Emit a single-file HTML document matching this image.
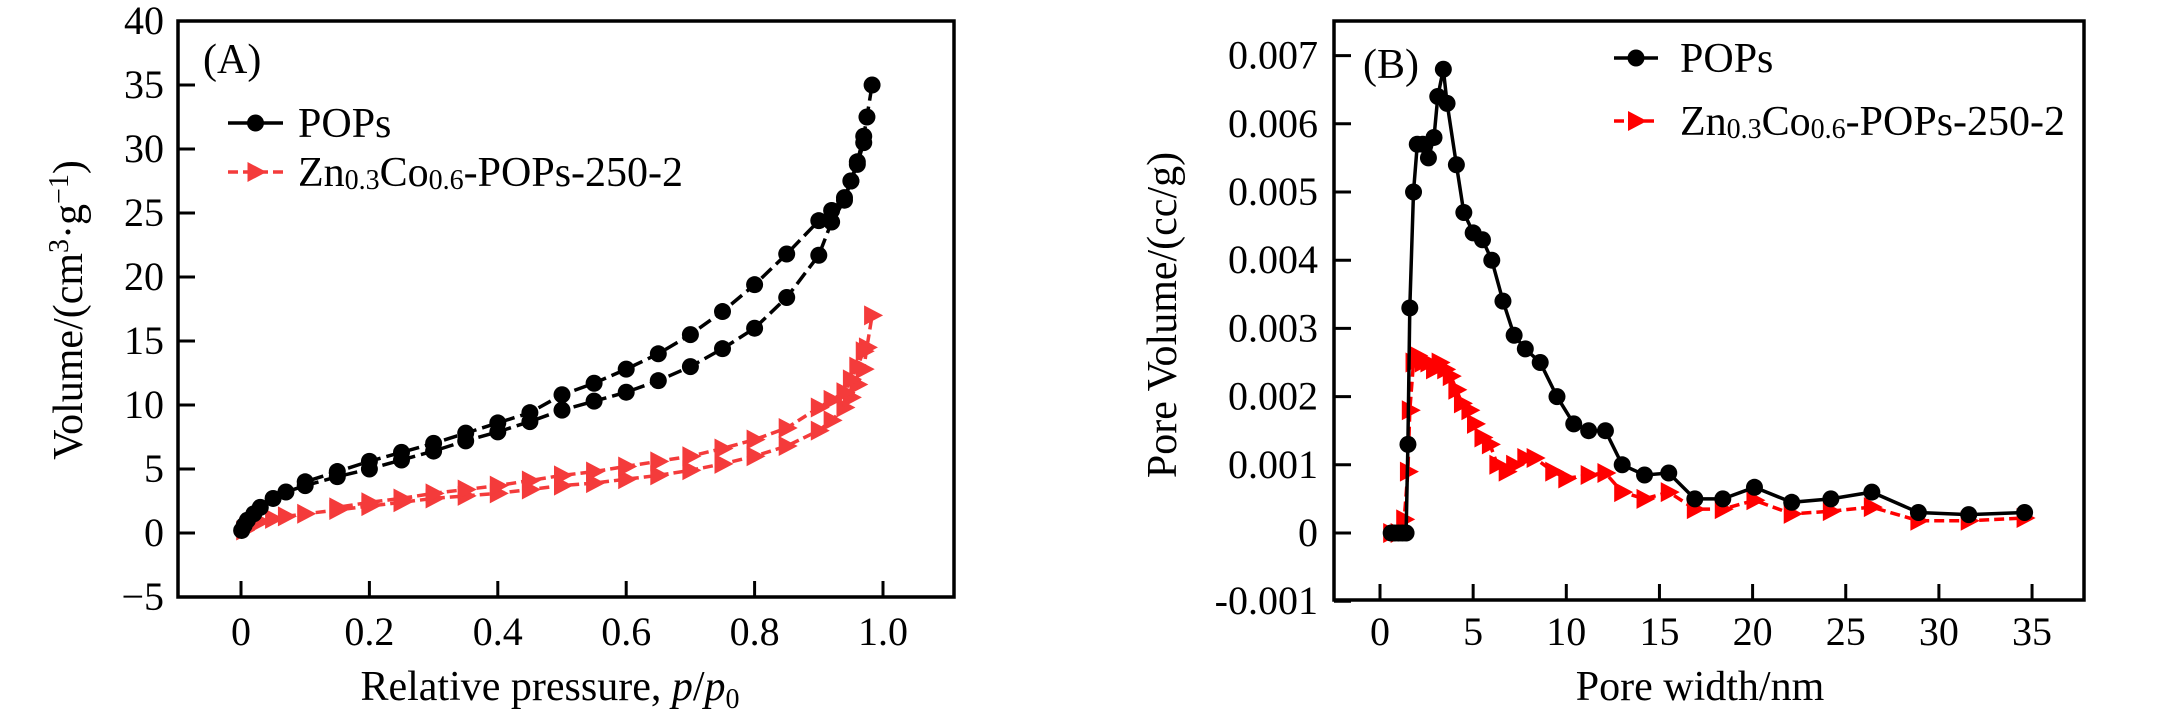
<!DOCTYPE html>
<html><head><meta charset="utf-8">
<style>
html,body{margin:0;padding:0;background:#fff;}
svg, svg text, svg tspan{font-family:"Liberation Serif","Times New Roman",serif;}
</style></head>
<body>
<svg id="fig" width="2158" height="709" viewBox="0 0 2158 709" font-family="Liberation Serif, serif">
<g id="pa"></g>
<g id="pb"></g>
</svg>
<script>
// ---- Panel A data (relative pressure vs volume) ----
const aPopsAdsP = [0.001,0.005,0.01,0.02,0.03,0.05,0.07,0.1,0.15,0.2,0.25,0.3,0.35,0.4,0.45,0.5,0.55,0.6,0.65,0.7,0.75,0.8,0.85,0.9,0.92,0.94,0.95,0.96,0.97,0.975,0.983];
const aPopsAdsV = [0.2,0.6,1.0,1.5,2.0,2.7,3.2,3.7,4.4,5.0,5.7,6.4,7.2,7.9,8.7,9.6,10.3,11.0,11.9,13.0,14.4,16.0,18.4,21.7,24.3,26.0,27.5,29.0,31.0,32.5,35.0];
const aPopsDesP = [0.97,0.96,0.95,0.94,0.92,0.9,0.85,0.8,0.75,0.7,0.65,0.6,0.55,0.5,0.45,0.4,0.35,0.3,0.25,0.2,0.15,0.1];
const aPopsDesV = [30.5,28.8,27.5,26.2,25.2,24.4,21.8,19.4,17.3,15.5,14.0,12.8,11.7,10.8,9.4,8.6,7.8,7.0,6.3,5.6,4.8,4.0];
const aZnAdsP = [0.005,0.01,0.03,0.05,0.07,0.1,0.15,0.2,0.25,0.3,0.35,0.4,0.45,0.5,0.55,0.6,0.65,0.7,0.75,0.8,0.85,0.9,0.92,0.94,0.95,0.96,0.97,0.975,0.983];
const aZnAdsV = [0.2,0.5,0.9,1.1,1.3,1.5,1.8,2.1,2.4,2.7,2.9,3.1,3.4,3.7,3.9,4.2,4.5,4.9,5.4,6.0,6.8,8.0,8.8,9.8,10.6,11.6,12.8,14.5,17.0];
const aZnDesP = [0.97,0.96,0.95,0.94,0.92,0.9,0.85,0.8,0.75,0.7,0.65,0.6,0.55,0.5,0.45,0.4,0.35,0.3,0.25,0.2,0.15];
const aZnDesV = [14.2,13.0,12.0,11.0,10.4,9.8,8.2,7.3,6.6,6.0,5.6,5.2,4.8,4.5,4.1,3.7,3.4,3.1,2.7,2.4,2.0];
const aXTicks = [0,0.2,0.4,0.6,0.8,1.0];
const aXTickLabels = ["0","0.2","0.4","0.6","0.8","1.0"];
const aYTicks = [-5,0,5,10,15,20,25,30,35,40];
const aYTickLabels = ["\u22125","0","5","10","15","20","25","30","35","40"];

// ---- Panel B data (pore width vs pore volume) ----
const bPopsW = [0.6,0.8,1.0,1.2,1.4,1.5,1.6,1.8,2.0,2.3,2.6,2.9,3.1,3.4,3.6,4.1,4.5,5.0,5.5,6.0,6.6,7.2,7.8,8.6,9.5,10.4,11.2,12.1,13.0,14.2,15.5,16.9,18.4,20.1,22.1,24.2,26.4,28.9,31.6,34.6];
const bPopsV = [0,0,0,0,0,0.0013,0.0033,0.0050,0.0057,0.0057,0.0055,0.0058,0.0064,0.0068,0.0063,0.0054,0.0047,0.0044,0.0043,0.0040,0.0034,0.0029,0.0027,0.0025,0.0020,0.0016,0.0015,0.0015,0.0010,0.00085,0.00088,0.0005,0.0005,0.00067,0.00045,0.0005,0.0006,0.0003,0.00027,0.0003];
const bZnW = [0.6,1.0,1.3,1.5,1.6,1.8,2.0,2.3,2.6,2.9,3.2,3.5,3.8,4.1,4.4,4.8,5.1,5.5,5.9,6.3,6.8,7.2,7.8,8.3,9.3,10.0,11.2,12.1,13.0,14.2,15.5,16.9,18.4,20.1,22.1,24.2,26.4,28.9,31.6,34.6];
const bZnV = [0,0,0.0002,0.0009,0.0018,0.0025,0.0026,0.0025,0.0025,0.0024,0.0025,0.0024,0.0023,0.0021,0.0019,0.0018,0.0016,0.0014,0.0013,0.0010,0.0009,0.0010,0.0011,0.0011,0.0009,0.0008,0.00085,0.00088,0.0006,0.0005,0.0006,0.00035,0.00035,0.00048,0.00028,0.00032,0.00038,0.00018,0.00018,0.00022];
const bXTicks = [0,5,10,15,20,25,30,35];
const bXTickLabels = ["0","5","10","15","20","25","30","35"];
const bYTicks = [-0.001,0,0.001,0.002,0.003,0.004,0.005,0.006,0.007];
const bYTickLabels = ["-0.001","0","0.001","0.002","0.003","0.004","0.005","0.006","0.007"];

const NS="http://www.w3.org/2000/svg";
const FF='"Liberation Serif", serif';
function mk(parent,tag,attrs,text){const e=document.createElementNS(NS,tag);for(const k in attrs)e.setAttribute(k,attrs[k]);if(tag==='text')e.setAttribute('font-family',FF);if(text!==undefined)e.textContent=text;parent.appendChild(e);return e;}

function drawPanel(g,cfg){
  const {L,R,T,B,xs,ys}=cfg;
  const frame=mk(g,'rect',{x:L,y:T,width:R-L,height:B-T,fill:'none',stroke:'#000','stroke-width':3.5});
  
  
  cfg.xTicks.forEach((v,i)=>{
    const x=xs(v);
    const t=mk(g,'line',{x1:x,x2:x,y1:B,y2:B-16,stroke:'#000','stroke-width':3});
    
    
    const l=mk(g,'text',{x:x,y:645,'font-size':40,'text-anchor':'middle'},cfg.xLabels[i]);
    
    
  });
  cfg.yTicks.forEach((v,i)=>{
    const y=ys(v);
    const t=mk(g,'line',{x1:L,x2:L+17,y1:y,y2:y,stroke:'#000','stroke-width':3});
    
    
    const l=mk(g,'text',{x:cfg.yLabelX,y:y+13,'font-size':40,'text-anchor':'end'},cfg.yLabels[i]);
    
    
  });
}
function series(g,xsArr,ysArr,xs,ys,color,dash,marker,name){
  const grp=mk(g,'g',{});
  
  
  const pts=xsArr.map((x,i)=>xs(x).toFixed(1)+','+ys(ysArr[i]).toFixed(1)).join(' ');
  const pl=mk(grp,'polyline',{points:pts,fill:'none',stroke:color,'stroke-width':3.5,'stroke-dasharray':dash});
  
  
  xsArr.forEach((x,i)=>{
    const px=xs(x),py=ys(ysArr[i]);
    let m;
    if(marker==='circle') m=mk(grp,'circle',{cx:px,cy:py,r:8.5,fill:color});
    else m=mk(grp,'polygon',{points:`${px-8},${py-10} ${px+11},${py} ${px-8},${py+10}`,fill:color});
    
    
  });
}
function legendEntry(g,x1,x2,y,tx,color,marker,label,sub){
  const grp=mk(g,'g',{});
  
  
  mk(grp,'line',{x1:x1,x2:x2,y1:y,y2:y,stroke:color,'stroke-width':3.5,'stroke-dasharray':marker==='circle'?'none':'10 5'});
  const cx=(x1+x2)/2;
  if(marker==='circle') mk(grp,'circle',{cx:cx,cy:y,r:8.5,fill:color});
  else mk(grp,'polygon',{points:`${cx-8},${y-10} ${cx+11},${y} ${cx-8},${y+10}`,fill:color});
  const t=mk(grp,'text',{x:tx,y:y+14,'font-size':42});
  if(sub){
    t.innerHTML='Zn<tspan font-size="28" dy="3">0.3</tspan><tspan dy="-3">Co</tspan><tspan font-size="28" dy="3">0.6</tspan><tspan dy="-3">-POPs-250-2</tspan>';
  } else t.textContent=label;
}

// Panel A
const ga=document.getElementById('pa');
const aL=178,aR=954,aT=21,aB=597;
const axs=v=>241+v*642;
const ays=v=>533-v*12.8;
drawPanel(ga,{L:aL,R:aR,T:aT,B:aB,xs:axs,ys:ays,xTicks:aXTicks,xLabels:aXTickLabels,yTicks:aYTicks,yLabels:aYTickLabels,yLabelX:164});
series(ga,aZnAdsP,aZnAdsV,axs,ays,'#f43b3b','10 5','tri','zn-adsorption');
series(ga,aZnDesP,aZnDesV,axs,ays,'#f43b3b','10 5','tri','zn-desorption');
series(ga,aPopsAdsP,aPopsAdsV,axs,ays,'#000','14 6','circle','pops-adsorption');
series(ga,aPopsDesP,aPopsDesV,axs,ays,'#000','14 6','circle','pops-desorption');
legendEntry(ga,228,283,123,298,'#000','circle','POPs',false);
legendEntry(ga,228,283,172,298,'#f43b3b','tri','',true);
let t=mk(ga,'text',{x:203,y:73,'font-size':42},'(A)');

t=mk(ga,'text',{x:550,y:700,'font-size':42,'text-anchor':'middle'});
t.innerHTML='Relative pressure, <tspan font-style="italic">p</tspan>/<tspan font-style="italic">p</tspan><tspan font-size="28" dy="8">0</tspan>';

t=mk(ga,'text',{x:0,y:0,'font-size':42,'text-anchor':'middle',transform:'translate(82,310) rotate(-90)'});
t.innerHTML='Volume/(cm<tspan font-size="28" dy="-14">3</tspan><tspan dy="14">·g</tspan><tspan font-size="28" dy="-14">−1</tspan><tspan dy="14">)</tspan>';


// Panel B
const gb=document.getElementById('pb');
const bL=1334,bR=2084,bT=21,bB=600;
const bxs=v=>1380+v*18.63;
const bys=v=>533-v*68200;
drawPanel(gb,{L:bL,R:bR,T:bT,B:bB,xs:bxs,ys:bys,xTicks:bXTicks,xLabels:bXTickLabels,yTicks:bYTicks,yLabels:bYTickLabels,yLabelX:1318});
series(gb,bZnW,bZnV,bxs,bys,'#f00','10 5','tri','zn-pore-distribution');
series(gb,bPopsW,bPopsV,bxs,bys,'#000','none','circle','pops-pore-distribution');
legendEntry(gb,1614,1658,58,1680,'#000','circle','POPs',false);
legendEntry(gb,1614,1658,121,1680,'#f00','tri','',true);
t=mk(gb,'text',{x:1363,y:78,'font-size':42},'(B)');

t=mk(gb,'text',{x:1700,y:700,'font-size':42,'text-anchor':'middle'},'Pore width/nm');

t=mk(gb,'text',{x:0,y:0,'font-size':42,'text-anchor':'middle',transform:'translate(1176,315) rotate(-90)'},'Pore Volume/(cc/g)');

</script>
</body></html>
